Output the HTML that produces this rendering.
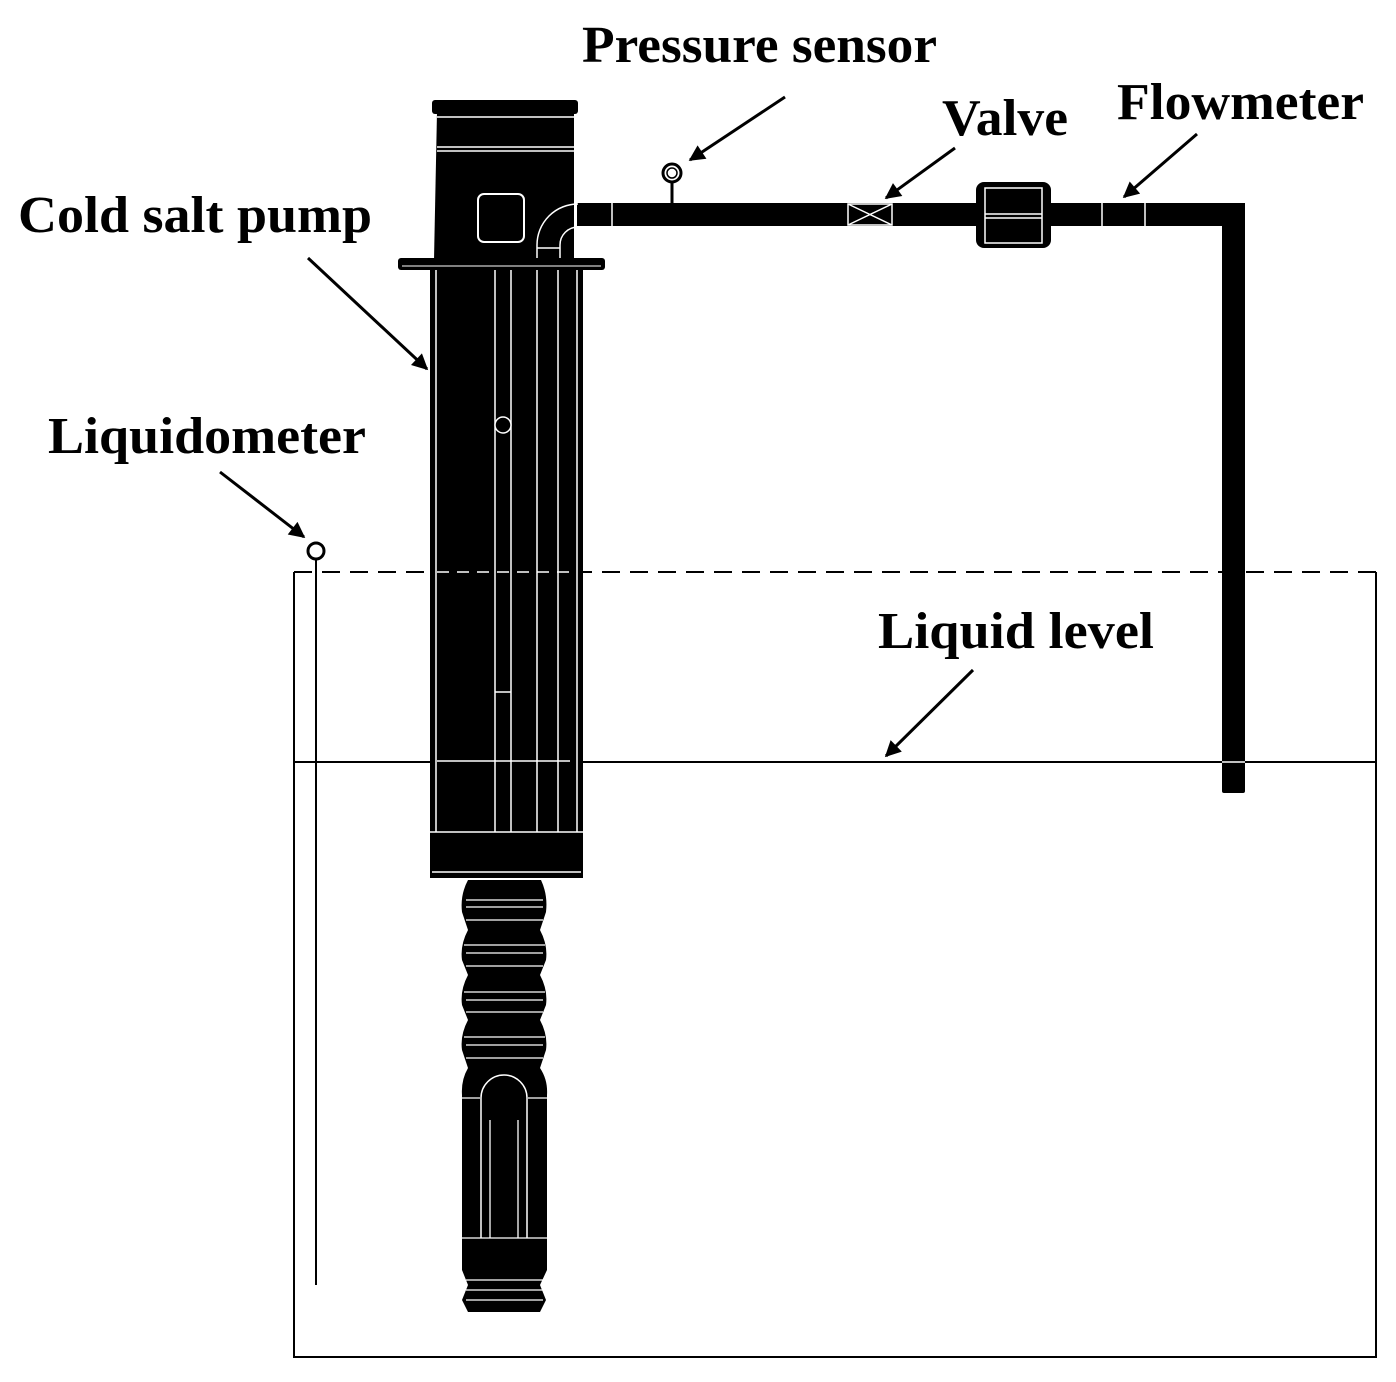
<!DOCTYPE html>
<html><head><style>
html,body{margin:0;padding:0;background:#fff;}
svg{display:block;}
text{font-family:"Liberation Serif",serif;font-weight:bold;font-size:52px;fill:#000;}
</style></head><body>
<svg width="1396" height="1382" viewBox="0 0 1396 1382" xmlns="http://www.w3.org/2000/svg">
<defs>
<marker id="a2" viewBox="0 0 10 10" markerWidth="20" markerHeight="16" refX="9" refY="5" orient="auto" markerUnits="userSpaceOnUse"><path d="M0,0 L10,5 L0,10 z" fill="#000"/></marker></defs>

<!-- tank -->
<line x1="294" y1="572" x2="1376" y2="572" stroke="#000" stroke-width="2" stroke-dasharray="18,10"/>
<path d="M294,572 V1357 H1376 V572" fill="none" stroke="#000" stroke-width="2"/>
<line x1="294" y1="762" x2="1376" y2="762" stroke="#000" stroke-width="2"/>
<!-- liquidometer -->
<circle cx="316" cy="551" r="8" fill="#fff" stroke="#000" stroke-width="3"/>
<line x1="316" y1="559" x2="316" y2="1285" stroke="#000" stroke-width="2"/>

<!-- pipe -->
<rect x="577" y="203" width="668" height="23" fill="#000"/>
<rect x="1222" y="203" width="23" height="590" rx="2" fill="#000"/>
<line x1="1222" y1="762" x2="1245" y2="762" stroke="#fff" stroke-width="1.5"/>
<line x1="612" y1="203" x2="612" y2="226" stroke="#fff" stroke-width="1.5"/>
<!-- valve -->
<rect x="848" y="204" width="44" height="21" fill="none" stroke="#fff" stroke-width="1.5"/>
<path d="M848,204 L892,225 M848,225 L892,204" stroke="#fff" stroke-width="1.5"/>
<!-- flowmeter -->
<rect x="976" y="182" width="75" height="66" rx="8" fill="#000"/>
<rect x="985" y="188" width="57" height="55" fill="none" stroke="#fff" stroke-width="1.5"/>
<line x1="985" y1="214" x2="1042" y2="214" stroke="#fff" stroke-width="1.5"/>
<line x1="985" y1="218" x2="1042" y2="218" stroke="#fff" stroke-width="1.5"/>
<line x1="1102" y1="203" x2="1102" y2="226" stroke="#fff" stroke-width="1.5"/>
<line x1="1145" y1="203" x2="1145" y2="226" stroke="#fff" stroke-width="1.5"/>
<!-- pressure sensor -->
<line x1="672" y1="182" x2="672" y2="203" stroke="#000" stroke-width="3"/>
<circle cx="672" cy="173" r="9" fill="#fff" stroke="#000" stroke-width="3"/>
<circle cx="672" cy="173" r="5" fill="none" stroke="#000" stroke-width="1.5"/>

<!-- pump head -->
<rect x="432" y="100" width="146" height="14" rx="3" fill="#000"/>
<path d="M437,112 H574 V260 H434 Z" fill="#000"/>
<line x1="437" y1="117" x2="574" y2="117" stroke="#fff" stroke-width="1.5"/>
<line x1="437" y1="147" x2="574" y2="147" stroke="#fff" stroke-width="1.5"/>
<line x1="437" y1="151" x2="574" y2="151" stroke="#fff" stroke-width="1.5"/>
<rect x="478" y="194" width="46" height="48" rx="6" fill="none" stroke="#fff" stroke-width="2"/>
<path d="M537,258 V245 A41,41 0 0 1 578,204" fill="none" stroke="#fff" stroke-width="1.5"/>
<path d="M560,258 V245 A18,18 0 0 1 578,227" fill="none" stroke="#fff" stroke-width="1.5"/>
<line x1="537" y1="248" x2="560" y2="248" stroke="#fff" stroke-width="1.5"/>
<!-- flange -->
<rect x="398" y="258" width="207" height="12" rx="3" fill="#000"/>
<line x1="402" y1="266" x2="601" y2="266" stroke="#fff" stroke-width="1"/>
<!-- body -->
<rect x="430" y="270" width="153" height="608" fill="#000"/>
<g stroke="#fff" stroke-width="1.5" fill="none">
<line x1="436" y1="270" x2="436" y2="832"/>
<line x1="495" y1="270" x2="495" y2="832"/>
<line x1="511" y1="270" x2="511" y2="832"/>
<line x1="537" y1="270" x2="537" y2="832"/>
<line x1="558" y1="270" x2="558" y2="832"/>
<line x1="577" y1="270" x2="577" y2="832"/>
<line x1="495" y1="692" x2="511" y2="692"/>
<line x1="437" y1="761" x2="570" y2="761"/>
<line x1="437" y1="572" x2="577" y2="572" stroke-dasharray="12,8"/>
<line x1="430" y1="832" x2="583" y2="832"/>
<line x1="432" y1="872" x2="581" y2="872"/>
</g>
<circle cx="503" cy="425" r="8" fill="#000" stroke="#fff" stroke-width="1.5"/>

<!-- lower pump -->
<path d="M468,880 H541 Q548,895 546,912 L540,930 Q548,945 546,960 L540,975 Q548,990 546,1005 L540,1020 Q548,1035 546,1050 L540,1068 Q548,1080 547,1095 V1270 L540,1285 L546,1300 L540,1312 H468 L462,1300 L468,1285 L462,1270 V1095 Q461,1080 468,1068 L462,1050 Q460,1035 468,1020 L462,1005 Q460,990 468,975 L462,960 Q460,945 468,930 L462,912 Q460,895 468,880 Z" fill="#000"/>
<g stroke="#fff" stroke-width="1.3">
<line x1="466" y1="900" x2="543" y2="900"/><line x1="466" y1="907" x2="543" y2="907"/><line x1="466" y1="920" x2="543" y2="920"/>
<line x1="464" y1="945" x2="545" y2="945"/><line x1="466" y1="953" x2="543" y2="953"/><line x1="466" y1="966" x2="543" y2="966"/>
<line x1="464" y1="992" x2="545" y2="992"/><line x1="466" y1="1000" x2="543" y2="1000"/><line x1="466" y1="1012" x2="543" y2="1012"/>
<line x1="464" y1="1037" x2="545" y2="1037"/><line x1="466" y1="1045" x2="543" y2="1045"/><line x1="466" y1="1058" x2="543" y2="1058"/>
<line x1="462" y1="1098" x2="480" y2="1098"/><line x1="528" y1="1098" x2="547" y2="1098"/>
<line x1="462" y1="1238" x2="547" y2="1238"/>
<line x1="466" y1="1280" x2="543" y2="1280"/><line x1="466" y1="1290" x2="543" y2="1290"/><line x1="466" y1="1300" x2="543" y2="1300"/>
</g>
<path d="M481,1238 V1098 A23,23 0 0 1 527,1098 V1238" fill="none" stroke="#fff" stroke-width="1.5"/>
<line x1="490" y1="1120" x2="490" y2="1238" stroke="#fff" stroke-width="1.3"/>
<line x1="518" y1="1120" x2="518" y2="1238" stroke="#fff" stroke-width="1.3"/>

<!-- arrows -->
<g stroke="#000" stroke-width="3" marker-end="url(#a2)">
<line x1="785" y1="97" x2="690" y2="160"/>
<line x1="955" y1="148" x2="886" y2="198"/>
<line x1="1197" y1="134" x2="1124" y2="197"/>
<line x1="308" y1="258" x2="427" y2="369"/>
<line x1="220" y1="472" x2="304" y2="537"/>
<line x1="973" y1="670" x2="886" y2="756"/>
</g>

<!-- labels -->
<text x="582" y="62" textLength="355" lengthAdjust="spacingAndGlyphs">Pressure sensor</text>
<text x="942" y="135" textLength="126" lengthAdjust="spacingAndGlyphs">Valve</text>
<text x="1117" y="119" textLength="247" lengthAdjust="spacingAndGlyphs">Flowmeter</text>
<text x="18" y="232" textLength="354" lengthAdjust="spacingAndGlyphs">Cold salt pump</text>
<text x="48" y="453" textLength="318" lengthAdjust="spacingAndGlyphs">Liquidometer</text>
<text x="878" y="648" textLength="276" lengthAdjust="spacingAndGlyphs">Liquid level</text>
</svg>
</body></html>
